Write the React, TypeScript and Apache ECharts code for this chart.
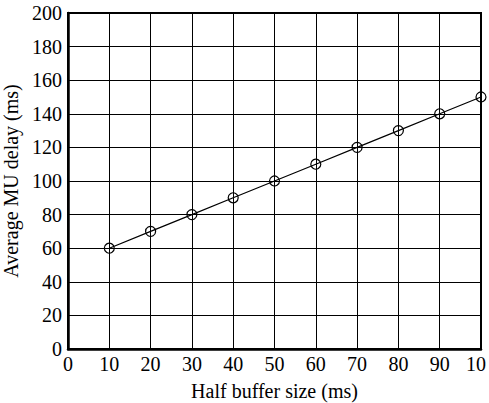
import React, { useEffect, useRef } from "react";
import * as echarts from "echarts";

const xValues = [10, 20, 30, 40, 50, 60, 70, 80, 90, 100];
const delayValues = [60, 70, 80, 90, 100, 110, 120, 130, 140, 150];
const xTickLabels = ["0", "10", "20", "30", "40", "50", "60", "70", "80", "90", "10"];
const xTitle = "Half buffer size (ms)";
const yTitle = "Average MU delay (ms)";

const FONT = "Liberation Serif";

export default function App() {
  const ref = useRef<HTMLDivElement>(null);
  useEffect(() => {
    if (!ref.current) return;
    const chart = echarts.init(ref.current, null, { renderer: "svg" });
    chart.setOption({
      animation: false,
      backgroundColor: "#ffffff",
      grid: {
        left: 68,
        right: 8,
        top: 13,
        bottom: 54,
        outerBoundsMode: "none",
        containLabel: false,
        show: true,
        borderColor: "#000",
        borderWidth: 2,
        backgroundColor: "transparent",
      },
      xAxis: {
        type: "value",
        min: 0,
        max: 100,
        interval: 10,
        name: xTitle,
        nameLocation: "middle",
        nameGap: 32,
        nameTextStyle: { fontFamily: FONT, fontSize: 20, color: "#000" },
        axisLine: { show: true, lineStyle: { color: "#000", width: 2.5 } },
        axisTick: { show: false },
        axisLabel: {
          fontFamily: FONT,
          fontSize: 20,
          color: "#000",
          margin: 5,
          formatter: (v: number) => {
            const i = Math.round(v / 10);
            const t = xTickLabels[i] ?? String(v);
            return i === xTickLabels.length - 1 ? "{last|" + t + "}" : t;
          },
          rich: {
            last: { fontFamily: FONT, fontSize: 20, color: "#000", padding: [0, 10, 0, 0] },
          },
        },
        splitLine: { show: true, lineStyle: { color: "#000", width: 1 } },
      },
      yAxis: {
        type: "value",
        min: 0,
        max: 200,
        interval: 20,
        name: yTitle,
        nameLocation: "middle",
        nameGap: 37,
        nameTextStyle: { fontFamily: FONT, fontSize: 20, color: "#000", padding: [0, 0, 0, 0] },
        axisLine: { show: true, lineStyle: { color: "#000", width: 2.5 } },
        axisTick: { show: false },
        axisLabel: { fontFamily: FONT, fontSize: 20, color: "#000", margin: 6 },
        splitLine: { show: true, lineStyle: { color: "#000", width: 1 } },
      },
      series: [
        {
          type: "line",
          data: xValues.map((x, i) => [x, delayValues[i]]),
          symbol: "circle",
          symbolSize: 10,
          showAllSymbol: true,
          lineStyle: { color: "#000", width: 1.2 },
          itemStyle: { color: "transparent", borderColor: "#000", borderWidth: 1.2 },
        },
      ],
    });
    return () => chart.dispose();
  }, []);
  return (
    <div
      ref={ref}
      style={{ position: "absolute", left: 0, top: 0, width: 489, height: 403 }}
    />
  );
}
